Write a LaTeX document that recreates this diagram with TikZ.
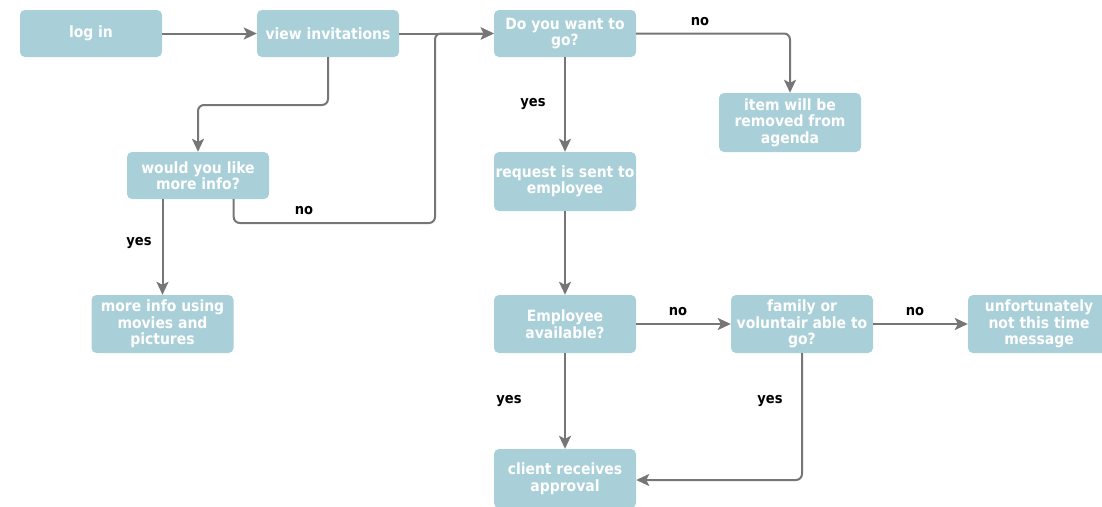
\documentclass[tikz,border=0pt]{standalone}
\usepackage{fontspec}
\setmainfont{DejaVu Sans Condensed}[BoldFont=DejaVu Sans Condensed Bold]
\usetikzlibrary{arrows.meta,calc}
\definecolor{boxfill}{RGB}{169,207,216}
\definecolor{arrgray}{RGB}{118,118,118}
\tikzset{
  flowbox/.style={draw=none, fill=boxfill, rounded corners=5pt, text=white,
    font=\fontsize{15.5}{16.5}\selectfont\bfseries, align=center,
    minimum width=142pt, minimum height=47pt, inner sep=0pt},
  tallbox/.style={flowbox, minimum height=59pt},
  arr/.style={draw=arrgray, line width=2pt, rounded corners=6pt,
    -{Stealth[length=13pt,width=12pt,inset=3pt]}},
  lbl/.style={font=\fontsize{14.5}{16}\selectfont\bfseries, text=black, inner sep=0pt}
}
\begin{document}
\begin{tikzpicture}[x=1pt,y=-1pt]
\useasboundingbox (0,0) rectangle (1102,506);
\begin{scope}
\clip (0,0) rectangle (1102,506);
\node[flowbox] (login) at (91,33.5) {log in};
\node[flowbox] (view) at (328,33.5) {view invitations};
\node[flowbox] (do) at (565,33.5) {Do you want to\\go?};
\node[tallbox] (item) at (790,122.5) {item will be\\removed from\\agenda};
\node[flowbox] (would) at (198,175.5) {would you like\\more info?};
\node[tallbox] (request) at (565,181.5) {request is sent to\\employee};
\node[tallbox, minimum height=58pt] (more) at (162.5,324) {more info using\\movies and\\pictures};
\node[tallbox, minimum height=58pt] (emp) at (565,324) {Employee\\available?};
\node[tallbox, minimum height=58pt] (family) at (802,324) {family or\\voluntair able to\\go?};
\node[tallbox, minimum height=58pt] (unf) at (1039,324) {unfortunately\\not this time\\message};
\node[tallbox] (client) at (565,478.5) {client receives\\approval};
\end{scope}

\coordinate (vbend) at (328,105);
\coordinate (nojoin) at (435,223);
\coordinate (fbend) at (802,480);

\draw[arr] (login) -- (view);
\draw[arr] (view) -- (do);
\draw[arr] (view.south) |- (vbend -| would.north) -- (would.north);
\draw[arr] (would.south -| more.east) |- (nojoin) |- (do.west);
\draw[arr] (would.south -| more.north) -- (more.north);
\draw[arr] (do.east) -| (item.north);
\draw[arr] (do) -- (request);
\draw[arr] (request) -- (emp);
\draw[arr] (emp) -- (family);
\draw[arr] (family.east) -- (unf.west);
\draw[arr] (emp) -- (client);
\draw[arr] (family.south) |- (client.east |- fbend);

\node[lbl] (l1) at (304,211) {no};
\node[lbl] (l2) at (139,243) {yes};
\node[lbl] (l3) at (700,22) {no};
\node[lbl] (l4) at (533,104) {yes};
\node[lbl] (l5) at (678,312) {no};
\node[lbl] (l6) at (915,312) {no};
\node[lbl] (l7) at (509,401) {yes};
\node[lbl] (l8) at (770,401) {yes};
\end{tikzpicture}
\end{document}
